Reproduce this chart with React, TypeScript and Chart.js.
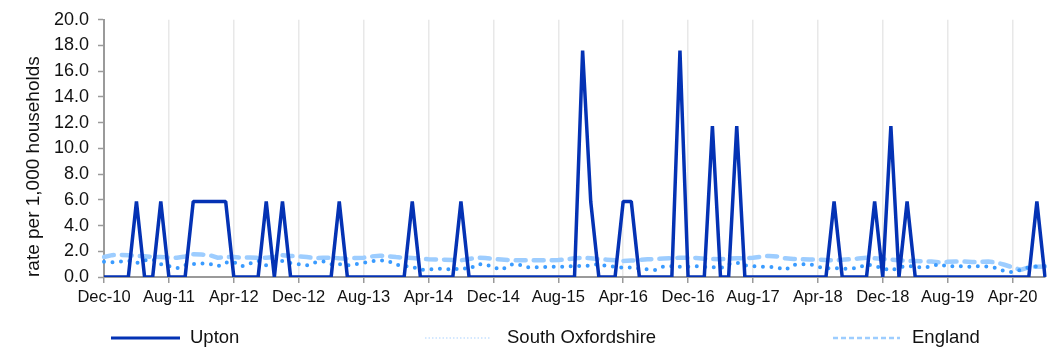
import React, { useEffect, useRef } from 'react';
import { Chart, registerables } from 'chart.js';

Chart.register(...registerables);

const FONT = '"Liberation Sans", Arial, Helvetica, sans-serif';

const MONTH_NAMES = ['Jan', 'Feb', 'Mar', 'Apr', 'May', 'Jun', 'Jul', 'Aug', 'Sep', 'Oct', 'Nov', 'Dec'];
const FIRST_MONTH_INDEX = 11; // Dec
const FIRST_YEAR_2DIGIT = 10; // 2010
const LABEL_EVERY = 8;

const seriesNames = ['Upton', 'South Oxfordshire', 'England'];

// Monthly rates, Dec-10 .. Aug-20
const uptonRates = [
  0, 0, 0, 0, 5.87, 0, 0, 5.87, 0, 0, 0, 5.87,
  5.87, 5.87, 5.87, 5.87, 0, 0, 0, 0, 5.87, 0, 5.87, 0,
  0, 0, 0, 0, 0, 5.87, 0, 0, 0, 0, 0, 0,
  0, 0, 5.87, 0, 0, 0, 0, 0, 5.87, 0, 0, 0,
  0, 0, 0, 0, 0, 0, 0, 0, 0, 0, 0, 17.61,
  5.87, 0, 0, 0, 5.87, 5.87, 0, 0, 0, 0, 0, 17.61,
  0, 0, 0, 11.74, 0, 0, 11.74, 0, 0, 0, 0, 0,
  0, 0, 0, 0, 0, 0, 5.87, 0, 0, 0, 0, 5.87,
  0, 11.74, 0, 5.87, 0, 0, 0, 0, 0, 0, 0, 0,
  0, 0, 0, 0, 0, 0, 0, 5.87, 0,
];

const southOxfordshireRates = [
  1.18, 1.15, 1.2, 1.26, 1.08, 1.3, 1.38, 1.0, 0.85, 0.68, 0.93, 1.0,
  1.05, 1.02, 0.83, 1.13, 1.16, 0.83, 1.05, 1.26, 0.9, 0.96, 1.26, 1.08,
  1.0, 0.9, 1.13, 1.22, 1.0, 1.0, 0.9, 1.0, 1.1, 1.22, 1.3, 1.25,
  0.95, 0.85, 0.8, 0.55, 0.6, 0.62, 0.65, 0.55, 0.72, 0.6, 1.0, 1.0,
  0.75, 0.55, 0.95, 1.0, 0.75, 0.75, 0.75, 0.8, 0.8, 0.8, 0.85, 0.85,
  0.9, 1.0, 0.85, 0.8, 0.72, 0.75, 0.65, 0.6, 0.55, 0.83, 0.83, 0.8,
  0.8, 0.83, 0.78, 0.78, 0.68, 1.0, 1.13, 0.9, 0.85, 0.8, 0.78, 0.75,
  0.55, 0.95, 1.0, 1.0, 0.8, 0.68, 0.7, 0.65, 0.65, 0.7, 1.0, 0.85,
  0.7, 0.5, 0.75, 0.88, 0.8, 0.7, 0.83, 1.0, 0.8, 0.85, 0.82, 0.8,
  0.85, 0.8, 0.7, 0.45, 0.38, 0.55, 0.75, 0.82, 0.85,
];

const englandRates = [
  1.56, 1.7, 1.72, 1.7, 1.64, 1.62, 1.56, 1.55, 1.5, 1.5, 1.6, 1.76,
  1.75, 1.7, 1.5, 1.55, 1.56, 1.5, 1.52, 1.5, 1.5, 1.55, 1.7, 1.64,
  1.6, 1.56, 1.45, 1.5, 1.5, 1.45, 1.42, 1.48, 1.5, 1.6, 1.66, 1.62,
  1.55, 1.5, 1.48, 1.42, 1.38, 1.36, 1.35, 1.32, 1.3, 1.4, 1.5, 1.48,
  1.4, 1.36, 1.32, 1.3, 1.3, 1.3, 1.3, 1.3, 1.32, 1.36, 1.45, 1.5,
  1.45, 1.38, 1.35, 1.3, 1.25, 1.28, 1.32, 1.38, 1.4, 1.44, 1.46, 1.5,
  1.5, 1.48, 1.42, 1.4, 1.38, 1.42, 1.45, 1.45, 1.5, 1.58, 1.64, 1.6,
  1.45, 1.4, 1.38, 1.36, 1.36, 1.32, 1.3, 1.34, 1.38, 1.44, 1.5, 1.45,
  1.4, 1.35, 1.3, 1.25, 1.24, 1.22, 1.2, 1.14, 1.18, 1.2, 1.2, 1.16,
  1.18, 1.2, 1.12, 0.95, 0.75, 0.55, 0.75, 0.8, 0.82,
];

const monthLabels = uptonRates.map((_, i) => {
  const m = FIRST_MONTH_INDEX + i;
  return `${MONTH_NAMES[m % 12]}-${FIRST_YEAR_2DIGIT + Math.floor(m / 12)}`;
});

const UPTON_COLOR = '#0432B4';
const SOUTH_OX_COLOR = '#3A9BFF';
const ENGLAND_COLOR = '#9DCDFF';
const AXIS_COLOR = '#9A9A9A';
const TEXT_COLOR = '#111111';

const legendPlugin = {
  id: 'fixedLegend',
  afterDraw(chart: any) {
    const ctx = chart.ctx as CanvasRenderingContext2D;
    const y = 338;
    const items = [
      { x1: 111, x2: 180, tx: 190, color: UPTON_COLOR, width: 3, dash: [] as number[] },
      { x1: 425, x2: 490, tx: 507, color: '#C6E1FF', width: 1.5, dash: [1.5, 2] },
      { x1: 833, x2: 900, tx: 912, color: ENGLAND_COLOR, width: 2.5, dash: [5, 3] },
    ];
    ctx.save();
    items.forEach((it, i) => {
      ctx.beginPath();
      ctx.setLineDash(it.dash);
      ctx.lineCap = 'butt';
      ctx.strokeStyle = it.color;
      ctx.lineWidth = it.width;
      ctx.moveTo(it.x1, y);
      ctx.lineTo(it.x2, y);
      ctx.stroke();
      ctx.setLineDash([]);
      ctx.fillStyle = TEXT_COLOR;
      ctx.font = `18.5px ${FONT}`;
      ctx.textBaseline = 'middle';
      ctx.textAlign = 'left';
      ctx.fillText(seriesNames[i], it.tx, y);
    });
    ctx.restore();
  },
};

export default function App() {
  const canvasRef = useRef<HTMLCanvasElement>(null);

  useEffect(() => {
    const canvas = canvasRef.current;
    if (!canvas) return;
    const chart = new Chart(canvas, {
      type: 'line',
      data: {
        labels: monthLabels,
        datasets: [
          {
            label: seriesNames[0],
            data: uptonRates,
            borderColor: UPTON_COLOR,
            backgroundColor: UPTON_COLOR,
            borderWidth: 3.5,
            pointRadius: 0,
            tension: 0,
            borderJoinStyle: 'bevel',
          },
          {
            label: seriesNames[1],
            data: southOxfordshireRates,
            borderColor: SOUTH_OX_COLOR,
            backgroundColor: SOUTH_OX_COLOR,
            borderWidth: 4,
            borderDash: [0, 8.5],
            borderCapStyle: 'round',
            pointRadius: 0,
            tension: 0,
          },
          {
            label: seriesNames[2],
            data: englandRates,
            borderColor: ENGLAND_COLOR,
            backgroundColor: ENGLAND_COLOR,
            borderWidth: 4.5,
            borderDash: [10, 8],
            borderCapStyle: 'round',
            pointRadius: 0,
            tension: 0,
          },
        ],
      },
      options: {
        animation: false,
        responsive: true,
        maintainAspectRatio: false,
        layout: { padding: { top: 12, right: 10, bottom: 0, left: 0 } },
        plugins: {
          legend: { display: false },
          tooltip: { enabled: false },
        },
        scales: {
          x: {
            type: 'category',
            offset: false,
            ticks: {
              autoSkip: false,
              maxRotation: 0,
              minRotation: 0,
              padding: 5,
              color: TEXT_COLOR,
              font: { family: FONT, size: 16.5 },
              callback: function (this: any, value: any, index: number) {
                return index % LABEL_EVERY === 0 ? this.getLabelForValue(value) : '';
              },
            },
            grid: {
              color: (c: any) => (c.index % LABEL_EVERY === 0 ? '#E8E8E8' : 'rgba(0,0,0,0)'),
              tickColor: (c: any) => (c.index % LABEL_EVERY === 0 ? AXIS_COLOR : 'rgba(0,0,0,0)'),
              lineWidth: 1.5,
              tickLength: 6,
              drawTicks: true,
            },
            border: { display: true, color: AXIS_COLOR, width: 2 },
            afterFit: (s: any) => {
              s.height = 75;
            },
          },
          y: {
            min: 0,
            max: 20,
            ticks: {
              stepSize: 2,
              padding: 9,
              color: TEXT_COLOR,
              font: { family: FONT, size: 18 },
              callback: (v: any) => Number(v).toFixed(1),
            },
            grid: {
              drawOnChartArea: false,
              drawTicks: true,
              tickLength: 6,
              tickColor: AXIS_COLOR,
              tickWidth: 1.5,
            },
            border: { display: true, color: AXIS_COLOR, width: 2 },
            title: {
              display: true,
              text: 'rate per 1,000 households',
              color: TEXT_COLOR,
              font: { family: FONT, size: 19 },
              align: 'start',
              padding: { top: 22, bottom: 0 },
            },
            afterFit: (s: any) => {
              s.width = 104;
            },
          },
        },
      },
      plugins: [legendPlugin],
    } as any);
    return () => chart.destroy();
  }, []);

  return (
    <div style={{ position: 'fixed', left: 0, top: 0, width: 1055, height: 352, background: '#fff' }}>
      <canvas ref={canvasRef} />
    </div>
  );
}
